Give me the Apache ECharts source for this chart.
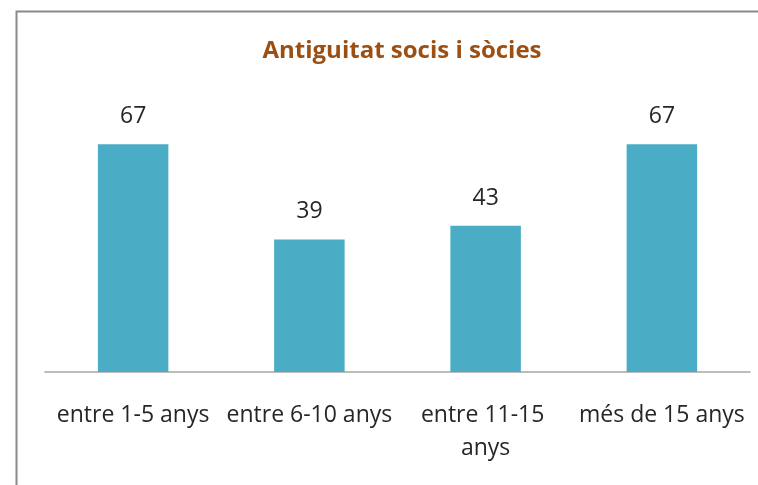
<!DOCTYPE html>
<html>
<head>
<meta charset="utf-8">
<script src="https://cdn.jsdelivr.net/npm/echarts@6/dist/echarts.min.js"></script>
<style>
html, body { margin: 0; padding: 0; background: #fff; }
#chart { width: 758px; height: 485px; }
</style>
</head>
<body>
<div id="chart"></div>
<script>
var titleText = 'Antiguitat socis i sòcies';
var categories = ['entre 1-5 anys', 'entre 6-10 anys', 'entre 11-15 anys', 'més de 15 anys'];
var values = [67, 39, 43, 67];

var myChart = echarts.init(document.getElementById('chart'));
var option = {
	backgroundColor: '#fff',
	animation: false,
	title: {
		text: titleText,
		left: 397,
		textAlign: 'center',
		top: 34,
		textStyle: {
			fontFamily: 'Open Sans',
			fontSize: 24,
			fontWeight: 'bold',
			color: '#9c4f13'
		}
	},
	graphic: [
		{
			type: 'rect',
			left: 14,
			top: 9,
			shape: { width: 800, height: 500 },
			style: { fill: 'none', stroke: '#8a8a8a', lineWidth: 2 },
			silent: true
		}
	],
	grid: {
		left: 45,
		right: 8,
		top: 100,
		bottom: 113
	},
	xAxis: {
		type: 'category',
		data: categories,
		axisLine: { lineStyle: { color: '#a6a6a6', width: 1.5 } },
		axisTick: { show: false },
		axisLabel: {
			interval: 0,
			margin: 27,
			width: 176,
			overflow: 'break',
			lineHeight: 33,
			fontFamily: 'Open Sans',
			fontSize: 23,
			color: '#262626'
		}
	},
	yAxis: {
		type: 'value',
		min: 0,
		max: 80,
		show: false,
		splitLine: { show: false }
	},
	series: [
		{
			type: 'bar',
			data: values,
			barWidth: '40%',
			itemStyle: { color: '#4bacc6' },
			label: {
				show: true,
				position: 'top',
				distance: 16,
				fontFamily: 'Open Sans',
				fontSize: 23,
				color: '#262626'
			}
		}
	]
};
option && myChart.setOption(option);
</script>
</body>
</html>
